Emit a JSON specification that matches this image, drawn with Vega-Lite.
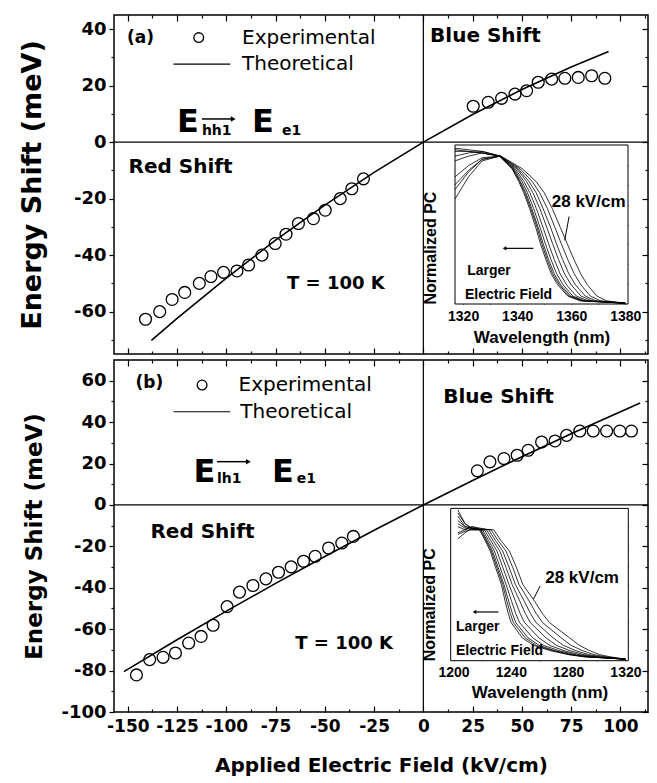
{
"$schema": "https://vega.github.io/schema/vega-lite/v6.json",
"padding": {"left": 17, "top": 13, "right": 5, "bottom": 5},
"spacing": 2,
"config": {
  "font": "DejaVu Sans",
  "view": {"stroke": "black", "strokeWidth": 1.5},
  "axis": {"domain": false, "grid": false, "tickColor": "black", "labelColor": "black", "titleColor": "black", "labelFont": "DejaVu Sans", "titleFont": "DejaVu Sans", "labelFontWeight": "bold", "titleFontWeight": "bold", "tickWidth": 1.2, "labelOverlap": false, "labelFlush": false, "labelExpr": "toString(datum.value)"}
},
"datasets": {
  "expA": [{"efield":-141,"shift":-62.7},{"efield":-133.8,"shift":-60},{"efield":-127.5,"shift":-55.7},{"efield":-121.1,"shift":-53.2},{"efield":-113.7,"shift":-50},{"efield":-107.8,"shift":-47.6},{"efield":-101.4,"shift":-46.1},{"efield":-94.6,"shift":-45.6},{"efield":-88.7,"shift":-43.5},{"efield":-81.9,"shift":-40},{"efield":-75.2,"shift":-35.9},{"efield":-69.7,"shift":-32.6},{"efield":-63.4,"shift":-28.8},{"efield":-55.8,"shift":-27.1},{"efield":-49.8,"shift":-24.1},{"efield":-42.2,"shift":-20},{"efield":-36.3,"shift":-16.5},{"efield":-30.4,"shift":-13},{"efield":25.3,"shift":12.7},{"efield":32.9,"shift":14.1},{"efield":39.7,"shift":15.5},{"efield":46.5,"shift":17},{"efield":52.4,"shift":18.2},{"efield":58.3,"shift":21.2},{"efield":65.1,"shift":22.3},{"efield":71.8,"shift":22.6},{"efield":78.6,"shift":22.9},{"efield":85.4,"shift":23.5},{"efield":92.1,"shift":22.6}],
  "theoA": [{"efield":-138,"shift":-70.2},{"efield":-125,"shift":-62.4},{"efield":-100,"shift":-48.1},{"efield":-75,"shift":-34.7},{"efield":-50,"shift":-22.3},{"efield":-25,"shift":-10.7},{"efield":0,"shift":0},{"efield":25,"shift":9.8},{"efield":50,"shift":18.6},{"efield":75,"shift":26.6},{"efield":94,"shift":32.1}],
  "expB": [{"efield":-145.6,"shift":-82.1},{"efield":-138.9,"shift":-74.7},{"efield":-132.1,"shift":-73.6},{"efield":-125.8,"shift":-71.5},{"efield":-119.1,"shift":-66.7},{"efield":-112.8,"shift":-63.5},{"efield":-106.7,"shift":-58.1},{"efield":-99.6,"shift":-49.1},{"efield":-93.3,"shift":-42.1},{"efield":-86.5,"shift":-38.9},{"efield":-79.9,"shift":-35.7},{"efield":-73.5,"shift":-32.5},{"efield":-67.1,"shift":-29.9},{"efield":-60.8,"shift":-27.2},{"efield":-54.9,"shift":-24.8},{"efield":-48.1,"shift":-20.8},{"efield":-41.4,"shift":-18.4},{"efield":-35.5,"shift":-15.2},{"efield":27.4,"shift":16.5},{"efield":33.8,"shift":20.8},{"efield":40.9,"shift":22.4},{"efield":47.6,"shift":24},{"efield":53.2,"shift":26.4},{"efield":60,"shift":30.4},{"efield":66.8,"shift":30.9},{"efield":72.7,"shift":33.6},{"efield":79.4,"shift":35.7},{"efield":86.2,"shift":35.7},{"efield":93,"shift":35.7},{"efield":99.7,"shift":35.7},{"efield":105.6,"shift":35.7}],
  "theoB": [{"efield":-152,"shift":-80.5},{"efield":-125,"shift":-65.1},{"efield":-100,"shift":-51.3},{"efield":-75,"shift":-37.9},{"efield":-50,"shift":-24.9},{"efield":-25,"shift":-12.2},{"efield":0,"shift":0},{"efield":25,"shift":11.8},{"efield":50,"shift":23.3},{"efield":75,"shift":34.4},{"efield":110,"shift":49.2}],
  "curvesA": [
{"c":1,"wl":1317,"pc":0.66},{"c":1,"wl":1322,"pc":0.80},{"c":1,"wl":1327,"pc":0.90},{"c":1,"wl":1333.5,"pc":0.93},{"c":1,"wl":1338.1,"pc":0.85},{"c":1,"wl":1340.6,"pc":0.77},{"c":1,"wl":1342.4,"pc":0.70},{"c":1,"wl":1344.6,"pc":0.60},{"c":1,"wl":1346.9,"pc":0.48},{"c":1,"wl":1348.6,"pc":0.38},{"c":1,"wl":1350.6,"pc":0.28},{"c":1,"wl":1352.6,"pc":0.19},{"c":1,"wl":1355,"pc":0.12},{"c":1,"wl":1358.7,"pc":0.05},{"c":1,"wl":1363.3,"pc":0.02},{"c":1,"wl":1380,"pc":0.005},
{"c":2,"wl":1317,"pc":0.97},{"c":2,"wl":1322,"pc":0.96},{"c":2,"wl":1327,"pc":0.95},{"c":2,"wl":1333.5,"pc":0.93},{"c":2,"wl":1338.3,"pc":0.85},{"c":2,"wl":1340.9,"pc":0.77},{"c":2,"wl":1342.8,"pc":0.70},{"c":2,"wl":1345,"pc":0.60},{"c":2,"wl":1347.4,"pc":0.48},{"c":2,"wl":1349.1,"pc":0.38},{"c":2,"wl":1351.1,"pc":0.28},{"c":2,"wl":1353.1,"pc":0.19},{"c":2,"wl":1355.6,"pc":0.12},{"c":2,"wl":1359.2,"pc":0.05},{"c":2,"wl":1363.8,"pc":0.02},{"c":2,"wl":1380,"pc":0.005},
{"c":3,"wl":1317,"pc":0.75},{"c":3,"wl":1322,"pc":0.84},{"c":3,"wl":1327,"pc":0.91},{"c":3,"wl":1333.6,"pc":0.93},{"c":3,"wl":1338.5,"pc":0.85},{"c":3,"wl":1341.2,"pc":0.77},{"c":3,"wl":1343.2,"pc":0.70},{"c":3,"wl":1345.4,"pc":0.60},{"c":3,"wl":1347.8,"pc":0.48},{"c":3,"wl":1349.6,"pc":0.38},{"c":3,"wl":1351.6,"pc":0.28},{"c":3,"wl":1353.7,"pc":0.19},{"c":3,"wl":1356.1,"pc":0.12},{"c":3,"wl":1359.8,"pc":0.05},{"c":3,"wl":1364.3,"pc":0.02},{"c":3,"wl":1380,"pc":0.005},
{"c":4,"wl":1317,"pc":0.90},{"c":4,"wl":1322,"pc":0.93},{"c":4,"wl":1327,"pc":0.95},{"c":4,"wl":1333.6,"pc":0.93},{"c":4,"wl":1338.8,"pc":0.85},{"c":4,"wl":1341.8,"pc":0.77},{"c":4,"wl":1343.8,"pc":0.70},{"c":4,"wl":1346.1,"pc":0.60},{"c":4,"wl":1348.5,"pc":0.48},{"c":4,"wl":1350.4,"pc":0.38},{"c":4,"wl":1352.5,"pc":0.28},{"c":4,"wl":1354.6,"pc":0.19},{"c":4,"wl":1357,"pc":0.12},{"c":4,"wl":1360.6,"pc":0.05},{"c":4,"wl":1365,"pc":0.02},{"c":4,"wl":1380,"pc":0.005},
{"c":5,"wl":1317,"pc":0.80},{"c":5,"wl":1322,"pc":0.87},{"c":5,"wl":1327,"pc":0.92},{"c":5,"wl":1333.7,"pc":0.93},{"c":5,"wl":1339.3,"pc":0.85},{"c":5,"wl":1342.5,"pc":0.77},{"c":5,"wl":1344.7,"pc":0.70},{"c":5,"wl":1347.1,"pc":0.60},{"c":5,"wl":1349.6,"pc":0.48},{"c":5,"wl":1351.6,"pc":0.38},{"c":5,"wl":1353.7,"pc":0.28},{"c":5,"wl":1355.9,"pc":0.19},{"c":5,"wl":1358.3,"pc":0.12},{"c":5,"wl":1361.9,"pc":0.05},{"c":5,"wl":1366.2,"pc":0.02},{"c":5,"wl":1380,"pc":0.005},
{"c":6,"wl":1317,"pc":0.98},{"c":6,"wl":1322,"pc":0.97},{"c":6,"wl":1327,"pc":0.96},{"c":6,"wl":1333.7,"pc":0.93},{"c":6,"wl":1339.9,"pc":0.85},{"c":6,"wl":1343.5,"pc":0.77},{"c":6,"wl":1345.8,"pc":0.70},{"c":6,"wl":1348.4,"pc":0.60},{"c":6,"wl":1351,"pc":0.48},{"c":6,"wl":1353.1,"pc":0.38},{"c":6,"wl":1355.3,"pc":0.28},{"c":6,"wl":1357.5,"pc":0.19},{"c":6,"wl":1360,"pc":0.12},{"c":6,"wl":1363.6,"pc":0.05},{"c":6,"wl":1367.7,"pc":0.02},{"c":6,"wl":1380,"pc":0.005},
{"c":7,"wl":1317,"pc":0.72},{"c":7,"wl":1322,"pc":0.83},{"c":7,"wl":1327,"pc":0.91},{"c":7,"wl":1333.8,"pc":0.93},{"c":7,"wl":1340.4,"pc":0.85},{"c":7,"wl":1344.4,"pc":0.77},{"c":7,"wl":1347,"pc":0.70},{"c":7,"wl":1349.6,"pc":0.60},{"c":7,"wl":1352.4,"pc":0.48},{"c":7,"wl":1354.5,"pc":0.38},{"c":7,"wl":1356.8,"pc":0.28},{"c":7,"wl":1359.1,"pc":0.19},{"c":7,"wl":1361.6,"pc":0.12},{"c":7,"wl":1365.2,"pc":0.05},{"c":7,"wl":1369.1,"pc":0.02},{"c":7,"wl":1380,"pc":0.005},
{"c":8,"wl":1317,"pc":0.93},{"c":8,"wl":1322,"pc":0.95},{"c":8,"wl":1327,"pc":0.96},{"c":8,"wl":1333.9,"pc":0.93},{"c":8,"wl":1341.1,"pc":0.85},{"c":8,"wl":1345.6,"pc":0.77},{"c":8,"wl":1348.3,"pc":0.70},{"c":8,"wl":1351.2,"pc":0.60},{"c":8,"wl":1354,"pc":0.48},{"c":8,"wl":1356.3,"pc":0.38},{"c":8,"wl":1358.7,"pc":0.28},{"c":8,"wl":1361.1,"pc":0.19},{"c":8,"wl":1363.6,"pc":0.12},{"c":8,"wl":1367.1,"pc":0.05},{"c":8,"wl":1370.9,"pc":0.02},{"c":8,"wl":1380,"pc":0.005},
{"c":9,"wl":1317,"pc":0.96},{"c":9,"wl":1322,"pc":0.96},{"c":9,"wl":1327,"pc":0.95},{"c":9,"wl":1334,"pc":0.93},{"c":9,"wl":1342,"pc":0.85},{"c":9,"wl":1347,"pc":0.77},{"c":9,"wl":1350,"pc":0.70},{"c":9,"wl":1353,"pc":0.60},{"c":9,"wl":1356,"pc":0.48},{"c":9,"wl":1358.5,"pc":0.38},{"c":9,"wl":1361,"pc":0.28},{"c":9,"wl":1363.5,"pc":0.19},{"c":9,"wl":1366,"pc":0.12},{"c":9,"wl":1369.5,"pc":0.05},{"c":9,"wl":1373,"pc":0.02},{"c":9,"wl":1380,"pc":0.005}],
  "curvesB": [
{"c":1,"wl":1203,"pc":0.99},{"c":1,"wl":1208,"pc":0.90},{"c":1,"wl":1213,"pc":0.87},{"c":1,"wl":1218,"pc":0.86},{"c":1,"wl":1222,"pc":0.79},{"c":1,"wl":1225.6,"pc":0.72},{"c":1,"wl":1229.4,"pc":0.61},{"c":1,"wl":1233.4,"pc":0.50},{"c":1,"wl":1236,"pc":0.39},{"c":1,"wl":1238.2,"pc":0.31},{"c":1,"wl":1240.2,"pc":0.25},{"c":1,"wl":1248,"pc":0.15},{"c":1,"wl":1256,"pc":0.10},{"c":1,"wl":1267.5,"pc":0.066},{"c":1,"wl":1280,"pc":0.04},{"c":1,"wl":1290.6,"pc":0.026},{"c":1,"wl":1320,"pc":0.01},
{"c":2,"wl":1203,"pc":0.95},{"c":2,"wl":1208,"pc":0.88},{"c":2,"wl":1213,"pc":0.87},{"c":2,"wl":1218.6,"pc":0.86},{"c":2,"wl":1222.7,"pc":0.79},{"c":2,"wl":1226.4,"pc":0.72},{"c":2,"wl":1230.3,"pc":0.61},{"c":2,"wl":1234.3,"pc":0.50},{"c":2,"wl":1237.2,"pc":0.39},{"c":2,"wl":1239.6,"pc":0.31},{"c":2,"wl":1241.8,"pc":0.25},{"c":2,"wl":1250,"pc":0.15},{"c":2,"wl":1257.9,"pc":0.10},{"c":2,"wl":1269.2,"pc":0.066},{"c":2,"wl":1281.3,"pc":0.04},{"c":2,"wl":1291.7,"pc":0.026},{"c":2,"wl":1320,"pc":0.01},
{"c":3,"wl":1203,"pc":0.84},{"c":3,"wl":1208,"pc":0.86},{"c":3,"wl":1213,"pc":0.88},{"c":3,"wl":1219.2,"pc":0.86},{"c":3,"wl":1223.3,"pc":0.79},{"c":3,"wl":1227.2,"pc":0.72},{"c":3,"wl":1231.2,"pc":0.61},{"c":3,"wl":1235.2,"pc":0.50},{"c":3,"wl":1238.5,"pc":0.39},{"c":3,"wl":1241.1,"pc":0.31},{"c":3,"wl":1243.4,"pc":0.25},{"c":3,"wl":1252,"pc":0.15},{"c":3,"wl":1259.8,"pc":0.10},{"c":3,"wl":1270.8,"pc":0.066},{"c":3,"wl":1282.6,"pc":0.04},{"c":3,"wl":1292.8,"pc":0.026},{"c":3,"wl":1320,"pc":0.01},
{"c":4,"wl":1203,"pc":0.90},{"c":4,"wl":1208,"pc":0.87},{"c":4,"wl":1213,"pc":0.86},{"c":4,"wl":1220.2,"pc":0.86},{"c":4,"wl":1224.4,"pc":0.79},{"c":4,"wl":1228.5,"pc":0.72},{"c":4,"wl":1232.6,"pc":0.61},{"c":4,"wl":1236.7,"pc":0.50},{"c":4,"wl":1240.5,"pc":0.39},{"c":4,"wl":1243.4,"pc":0.31},{"c":4,"wl":1246.1,"pc":0.25},{"c":4,"wl":1255.3,"pc":0.15},{"c":4,"wl":1263,"pc":0.10},{"c":4,"wl":1273.6,"pc":0.066},{"c":4,"wl":1284.8,"pc":0.04},{"c":4,"wl":1294.6,"pc":0.026},{"c":4,"wl":1320,"pc":0.01},
{"c":5,"wl":1203,"pc":0.80},{"c":5,"wl":1208,"pc":0.84},{"c":5,"wl":1213,"pc":0.87},{"c":5,"wl":1221.5,"pc":0.86},{"c":5,"wl":1225.9,"pc":0.79},{"c":5,"wl":1230.3,"pc":0.72},{"c":5,"wl":1234.5,"pc":0.61},{"c":5,"wl":1238.7,"pc":0.50},{"c":5,"wl":1243.2,"pc":0.39},{"c":5,"wl":1246.5,"pc":0.31},{"c":5,"wl":1249.6,"pc":0.25},{"c":5,"wl":1259.6,"pc":0.15},{"c":5,"wl":1267.2,"pc":0.10},{"c":5,"wl":1277.1,"pc":0.066},{"c":5,"wl":1287.7,"pc":0.04},{"c":5,"wl":1297,"pc":0.026},{"c":5,"wl":1320,"pc":0.01},
{"c":6,"wl":1203,"pc":0.97},{"c":6,"wl":1208,"pc":0.90},{"c":6,"wl":1213,"pc":0.86},{"c":6,"wl":1223,"pc":0.86},{"c":6,"wl":1227.5,"pc":0.79},{"c":6,"wl":1232.3,"pc":0.72},{"c":6,"wl":1236.7,"pc":0.61},{"c":6,"wl":1240.9,"pc":0.50},{"c":6,"wl":1246.3,"pc":0.39},{"c":6,"wl":1250.1,"pc":0.31},{"c":6,"wl":1253.6,"pc":0.25},{"c":6,"wl":1264.5,"pc":0.15},{"c":6,"wl":1272,"pc":0.10},{"c":6,"wl":1281.3,"pc":0.066},{"c":6,"wl":1291,"pc":0.04},{"c":6,"wl":1299.8,"pc":0.026},{"c":6,"wl":1320,"pc":0.01},
{"c":7,"wl":1203,"pc":0.88},{"c":7,"wl":1208,"pc":0.86},{"c":7,"wl":1213,"pc":0.88},{"c":7,"wl":1224.5,"pc":0.86},{"c":7,"wl":1229.2,"pc":0.79},{"c":7,"wl":1234.3,"pc":0.72},{"c":7,"wl":1238.9,"pc":0.61},{"c":7,"wl":1243.2,"pc":0.50},{"c":7,"wl":1249.4,"pc":0.39},{"c":7,"wl":1253.7,"pc":0.31},{"c":7,"wl":1257.6,"pc":0.25},{"c":7,"wl":1269.5,"pc":0.15},{"c":7,"wl":1276.8,"pc":0.10},{"c":7,"wl":1285.4,"pc":0.066},{"c":7,"wl":1294.3,"pc":0.04},{"c":7,"wl":1302.6,"pc":0.026},{"c":7,"wl":1320,"pc":0.01},
{"c":8,"wl":1203,"pc":0.92},{"c":8,"wl":1208,"pc":0.88},{"c":8,"wl":1213,"pc":0.87},{"c":8,"wl":1226.2,"pc":0.86},{"c":8,"wl":1231,"pc":0.79},{"c":8,"wl":1236.6,"pc":0.72},{"c":8,"wl":1241.4,"pc":0.61},{"c":8,"wl":1245.7,"pc":0.50},{"c":8,"wl":1252.9,"pc":0.39},{"c":8,"wl":1257.7,"pc":0.31},{"c":8,"wl":1262.2,"pc":0.25},{"c":8,"wl":1275.1,"pc":0.15},{"c":8,"wl":1282.2,"pc":0.10},{"c":8,"wl":1290.1,"pc":0.066},{"c":8,"wl":1298,"pc":0.04},{"c":8,"wl":1305.7,"pc":0.026},{"c":8,"wl":1320,"pc":0.01},
{"c":9,"wl":1203,"pc":0.83},{"c":9,"wl":1208,"pc":0.85},{"c":9,"wl":1213,"pc":0.86},{"c":9,"wl":1228,"pc":0.86},{"c":9,"wl":1233,"pc":0.79},{"c":9,"wl":1239,"pc":0.72},{"c":9,"wl":1244,"pc":0.61},{"c":9,"wl":1248.4,"pc":0.50},{"c":9,"wl":1256.6,"pc":0.39},{"c":9,"wl":1262,"pc":0.31},{"c":9,"wl":1267,"pc":0.25},{"c":9,"wl":1281,"pc":0.15},{"c":9,"wl":1288,"pc":0.10},{"c":9,"wl":1295,"pc":0.066},{"c":9,"wl":1302,"pc":0.04},{"c":9,"wl":1309,"pc":0.026},{"c":9,"wl":1320,"pc":0.01}]
},
"vconcat": [
{
 "width": 534, "height": 339,
 "resolve": {"scale": {"x": "independent", "y": "independent"}, "axis": {"x": "independent", "y": "independent"}},
 "layer": [
  {
   "resolve": {"axis": {"x": "independent", "y": "independent"}},
   "layer": [
    {"data": {"name": "theoA"}, "mark": {"type": "line", "color": "black", "strokeWidth": 1.6},
     "encoding": {
      "x": {"field": "efield", "type": "quantitative", "scale": {"domain": [-157, 114], "nice": false, "zero": false}, "axis": {"orient": "bottom", "values": [-137.5,-112.5,-87.5,-62.5,-37.5,-12.5,12.5,37.5,62.5,87.5,112.5], "labels": false, "tickSize": -3, "title": null}},
      "y": {"field": "shift", "type": "quantitative", "scale": {"domain": [-75, 45], "nice": false, "zero": false}, "axis": {"orient": "left", "values": [-70,-50,-30,-10,10,30], "labels": false, "tickSize": 3, "title": null}}}},
    {"data": {"name": "expA"}, "mark": {"type": "point", "shape": "circle", "filled": false, "color": "black", "strokeWidth": 1.3, "size": 140, "opacity": 1},
     "encoding": {
      "x": {"field": "efield", "type": "quantitative", "axis": {"orient": "bottom", "values": [-150,-125,-100,-75,-50,-25,0,25,50,75,100], "labels": false, "tickSize": -6, "title": null}},
      "y": {"field": "shift", "type": "quantitative", "axis": {"orient": "left", "values": [-60,-40,-20,0,20,40], "tickSize": 5, "labelPadding": 3, "labelFontSize": 18, "title": "Energy Shift (meV)", "titleFontSize": 27, "titlePadding": 27}}}},
    {"data": {"values": [{}]}, "mark": {"type": "rule", "color": "black", "strokeWidth": 1.2},
     "encoding": {"x": {"datum": 0, "type": "quantitative", "axis": {"orient": "top", "values": [-150,-125,-100,-75,-50,-25,0,25,50,75,100], "labels": false, "tickSize": -6, "title": null}}}},
    {"data": {"values": [{}]}, "mark": {"type": "rule", "color": "black", "strokeWidth": 1.2},
     "encoding": {"y": {"datum": 0, "type": "quantitative", "axis": {"orient": "right", "values": [-60,-40,-20,0,20,40], "labels": false, "tickSize": -6, "title": null}}}},
    {"data": {"values": [{"label": "Red Shift", "efield": -149.6, "shift": -8.8}, {"label": "Blue Shift", "efield": 3.4, "shift": 37.4}]},
     "mark": {"type": "text", "align": "left", "baseline": "middle", "fontSize": 20, "fontWeight": "bold", "color": "black"},
     "encoding": {
      "x": {"field": "efield", "type": "quantitative", "axis": {"orient": "top", "values": [-137.5,-112.5,-87.5,-62.5,-37.5,-12.5,12.5,37.5,62.5,87.5,112.5], "labels": false, "tickSize": -3, "title": null}},
      "y": {"field": "shift", "type": "quantitative", "axis": {"orient": "right", "values": [-70,-50,-30,-10,10,30], "labels": false, "tickSize": -3, "title": null}},
      "text": {"field": "label"}}},
    {"data": {"values": [{"label": "T = 100 K", "efield": -69.2, "shift": -50.3}]},
     "mark": {"type": "text", "align": "left", "baseline": "middle", "fontSize": 18, "fontWeight": "bold", "color": "black"},
     "encoding": {"x": {"field": "efield", "type": "quantitative", "axis": null}, "y": {"field": "shift", "type": "quantitative", "axis": null}, "text": {"field": "label"}}},
    {"data": {"values": [{"label": "(a)", "efield": -150.4, "shift": 37}]},
     "mark": {"type": "text", "align": "left", "baseline": "middle", "fontSize": 17, "fontWeight": "bold", "color": "black"},
     "encoding": {"x": {"field": "efield", "type": "quantitative", "axis": null}, "y": {"field": "shift", "type": "quantitative", "axis": null}, "text": {"field": "label"}}},
    {"data": {"values": [{"label": "Experimental", "efield": -92, "shift": 37}, {"label": "Theoretical", "efield": -92, "shift": 27.6}]},
     "mark": {"type": "text", "align": "left", "baseline": "middle", "fontSize": 20, "color": "black"},
     "encoding": {"x": {"field": "efield", "type": "quantitative", "axis": null}, "y": {"field": "shift", "type": "quantitative", "axis": null}, "text": {"field": "label"}}},
    {"data": {"values": [{}]}, "mark": {"type": "point", "shape": "circle", "filled": false, "color": "black", "strokeWidth": 1.3, "size": 95, "opacity": 1},
     "encoding": {"x": {"datum": -114, "type": "quantitative", "axis": null}, "y": {"datum": 37, "type": "quantitative", "axis": null}}},
    {"data": {"values": [{}]}, "mark": {"type": "rule", "color": "black", "strokeWidth": 1.2},
     "encoding": {"x": {"datum": -126.8, "type": "quantitative", "axis": null}, "x2": {"datum": -98}, "y": {"datum": 27.6, "type": "quantitative", "axis": null}}},
    {"data": {"values": [{"label": "E", "efield": -125, "shift": 3.5}, {"label": "E", "efield": -87, "shift": 3.5}]},
     "mark": {"type": "text", "align": "left", "baseline": "alphabetic", "fontSize": 32, "fontWeight": "bold", "color": "black"},
     "encoding": {"x": {"field": "efield", "type": "quantitative", "axis": null}, "y": {"field": "shift", "type": "quantitative", "axis": null}, "text": {"field": "label"}}},
    {"data": {"values": [{"label": "hh1", "efield": -112.4, "shift": 2.5}, {"label": "e1", "efield": -71.8, "shift": 2.5}]},
     "mark": {"type": "text", "align": "left", "baseline": "alphabetic", "fontSize": 14, "fontWeight": "bold", "color": "black"},
     "encoding": {"x": {"field": "efield", "type": "quantitative", "axis": null}, "y": {"field": "shift", "type": "quantitative", "axis": null}, "text": {"field": "label"}}},
    {"data": {"values": [{}]}, "mark": {"type": "rule", "color": "black", "strokeWidth": 1.5},
     "encoding": {"x": {"datum": -112.4, "type": "quantitative", "axis": null}, "x2": {"datum": -97}, "y": {"datum": 8.2, "type": "quantitative", "axis": null}}},
    {"data": {"values": [{}]}, "mark": {"type": "point", "shape": "triangle-right", "filled": true, "color": "black", "size": 30, "opacity": 1},
     "encoding": {"x": {"datum": -96.5, "type": "quantitative", "axis": null}, "y": {"datum": 8.2, "type": "quantitative", "axis": null}}}
   ]
  },
  {
   "resolve": {"axis": {"x": "independent", "y": "independent"}},
   "layer": [
    {"data": {"values": [{}]}, "mark": {"type": "rect", "fill": "white", "stroke": "black", "strokeWidth": 1},
     "encoding": {
      "x": {"datum": 1317, "type": "quantitative", "scale": {"domain": [1317, 1381], "range": [341, 514], "nice": false, "zero": false},
            "axis": {"orient": "bottom", "offset": -50, "values": [1320,1340,1360,1380], "ticks": false, "labelPadding": 5, "labelFont": "Liberation Sans", "labelFontSize": 14, "title": "Wavelength (nm)", "titleFont": "Liberation Sans", "titleFontSize": 17, "titlePadding": 6}},
      "x2": {"datum": 1381},
      "y": {"datum": 0, "type": "quantitative", "scale": {"domain": [0, 1], "range": [289, 130], "nice": false, "zero": false},
            "axis": {"orient": "left", "offset": -341, "labels": false, "ticks": false, "title": "Normalized PC", "titleFont": "Liberation Sans", "titleFontSize": 16, "titleX": -17, "titleY": 289, "titleAlign": "left", "titleAngle": -90, "titleBaseline": "bottom"}},
      "y2": {"datum": 1}}},
    {"data": {"name": "curvesA"}, "mark": {"type": "line", "color": "black", "strokeWidth": 0.8},
     "encoding": {
      "x": {"field": "wl", "type": "quantitative", "axis": {"orient": "bottom", "offset": -50, "values": [1320,1330,1340,1350,1360,1370,1380], "labels": false, "tickSize": -4, "title": null}},
      "y": {"field": "pc", "type": "quantitative", "axis": {"orient": "right", "offset": -20, "values": [0.125,0.25,0.375,0.5,0.625,0.75,0.875], "labels": false, "tickSize": -4, "title": null}},
      "detail": {"field": "c", "type": "nominal"}}},
    {"data": {"values": [{"label": "28 kV/cm", "wl": 1352.8, "pc": 0.64}]},
     "mark": {"type": "text", "align": "left", "baseline": "middle", "font": "Liberation Sans", "fontSize": 17, "fontWeight": "bold", "color": "black"},
     "encoding": {
      "x": {"field": "wl", "type": "quantitative", "axis": {"orient": "top", "offset": -130, "values": [1320,1330,1340,1350,1360,1370,1380], "labels": false, "tickSize": -4, "title": null}},
      "y": {"field": "pc", "type": "quantitative", "axis": {"orient": "left", "offset": -341, "values": [0.125,0.25,0.375,0.5,0.625,0.75,0.875], "labels": false, "tickSize": -4, "title": null}},
      "text": {"field": "label"}}},
    {"data": {"values": [{"label": "Larger", "wl": 1321.5, "pc": 0.21}, {"label": "Electric Field", "wl": 1320.7, "pc": 0.058}]},
     "mark": {"type": "text", "align": "left", "baseline": "middle", "font": "Liberation Sans", "fontSize": 14, "fontWeight": "bold", "color": "black"},
     "encoding": {"x": {"field": "wl", "type": "quantitative", "axis": null}, "y": {"field": "pc", "type": "quantitative", "axis": null}, "text": {"field": "label"}}},
    {"data": {"values": [{}]}, "mark": {"type": "rule", "color": "black", "strokeWidth": 1},
     "encoding": {"x": {"datum": 1359.2, "type": "quantitative", "axis": null}, "x2": {"datum": 1357.6}, "y": {"datum": 0.55, "type": "quantitative", "axis": null}, "y2": {"datum": 0.40}}},
    {"data": {"values": [{}]}, "mark": {"type": "rule", "color": "black", "strokeWidth": 1.2},
     "encoding": {"x": {"datum": 1335.5, "type": "quantitative", "axis": null}, "x2": {"datum": 1346}, "y": {"datum": 0.35, "type": "quantitative", "axis": null}}},
    {"data": {"values": [{}]}, "mark": {"type": "point", "shape": "triangle-left", "filled": true, "color": "black", "size": 18, "opacity": 1},
     "encoding": {"x": {"datum": 1335.3, "type": "quantitative", "axis": null}, "y": {"datum": 0.35, "type": "quantitative", "axis": null}}}
   ]
  }
 ]
},
{
 "width": 534, "height": 352,
 "resolve": {"scale": {"x": "independent", "y": "independent"}, "axis": {"x": "independent", "y": "independent"}},
 "layer": [
  {
   "resolve": {"axis": {"x": "independent", "y": "independent"}},
   "layer": [
    {"data": {"name": "theoB"}, "mark": {"type": "line", "color": "black", "strokeWidth": 1.6},
     "encoding": {
      "x": {"field": "efield", "type": "quantitative", "scale": {"domain": [-157, 114], "nice": false, "zero": false}, "axis": {"orient": "bottom", "values": [-137.5,-112.5,-87.5,-62.5,-37.5,-12.5,12.5,37.5,62.5,87.5,112.5], "labels": false, "tickSize": -3, "title": null}},
      "y": {"field": "shift", "type": "quantitative", "scale": {"domain": [-100, 70], "nice": false, "zero": false}, "axis": {"orient": "left", "values": [-90,-70,-50,-30,-10,10,30,50], "labels": false, "tickSize": 3, "title": null}}}},
    {"data": {"name": "expB"}, "mark": {"type": "point", "shape": "circle", "filled": false, "color": "black", "strokeWidth": 1.3, "size": 140, "opacity": 1},
     "encoding": {
      "x": {"field": "efield", "type": "quantitative", "axis": {"orient": "bottom", "values": [-150,-125,-100,-75,-50,-25,0,25,50,75,100], "labels": false, "tickSize": -6, "title": null}},
      "y": {"field": "shift", "type": "quantitative", "axis": {"orient": "left", "values": [-100,-80,-60,-40,-20,0,20,40,60], "tickSize": 5, "labelPadding": 3, "labelFontSize": 18, "title": "Energy Shift (meV)", "titleFontSize": 23, "titlePadding": 14}}}},
    {"data": {"values": [{}]}, "mark": {"type": "rule", "color": "black", "strokeWidth": 1.2},
     "encoding": {"x": {"datum": 0, "type": "quantitative", "axis": {"orient": "bottom", "values": [-150,-125,-100,-75,-50,-25,0,25,50,75,100], "ticks": false, "labelPadding": 6, "labelFontSize": 17, "title": "Applied Electric Field (kV/cm)", "titleFontSize": 20, "titlePadding": 21}}}},
    {"data": {"values": [{}]}, "mark": {"type": "rule", "color": "black", "strokeWidth": 1.2},
     "encoding": {"y": {"datum": 0, "type": "quantitative", "axis": {"orient": "right", "values": [-100,-80,-60,-40,-20,0,20,40,60], "labels": false, "tickSize": -6, "title": null}}}},
    {"data": {"values": [{"label": "Red Shift", "efield": -138.5, "shift": -13.3}, {"label": "Blue Shift", "efield": 10.1, "shift": 51.9}]},
     "mark": {"type": "text", "align": "left", "baseline": "middle", "fontSize": 20, "fontWeight": "bold", "color": "black"},
     "encoding": {
      "x": {"field": "efield", "type": "quantitative", "axis": {"orient": "top", "values": [-150,-125,-100,-75,-50,-25,0,25,50,75,100], "labels": false, "tickSize": -6, "title": null}},
      "y": {"field": "shift", "type": "quantitative", "axis": {"orient": "right", "values": [-90,-70,-50,-30,-10,10,30,50], "labels": false, "tickSize": -3, "title": null}},
      "text": {"field": "label"}}},
    {"data": {"values": [{"label": "T = 100 K", "efield": -65, "shift": -67}]},
     "mark": {"type": "text", "align": "left", "baseline": "middle", "fontSize": 18, "fontWeight": "bold", "color": "black"},
     "encoding": {
      "x": {"field": "efield", "type": "quantitative", "axis": {"orient": "top", "values": [-137.5,-112.5,-87.5,-62.5,-37.5,-12.5,12.5,37.5,62.5,87.5,112.5], "labels": false, "tickSize": -3, "title": null}},
      "y": {"field": "shift", "type": "quantitative", "axis": null}, "text": {"field": "label"}}},
    {"data": {"values": [{"label": "(b)", "efield": -146.1, "shift": 58.9}]},
     "mark": {"type": "text", "align": "left", "baseline": "middle", "fontSize": 17, "fontWeight": "bold", "color": "black"},
     "encoding": {"x": {"field": "efield", "type": "quantitative", "axis": null}, "y": {"field": "shift", "type": "quantitative", "axis": null}, "text": {"field": "label"}}},
    {"data": {"values": [{"label": "Experimental", "efield": -93.8, "shift": 57.9}, {"label": "Theoretical", "efield": -92.9, "shift": 45}]},
     "mark": {"type": "text", "align": "left", "baseline": "middle", "fontSize": 20, "color": "black"},
     "encoding": {"x": {"field": "efield", "type": "quantitative", "axis": null}, "y": {"field": "shift", "type": "quantitative", "axis": null}, "text": {"field": "label"}}},
    {"data": {"values": [{}]}, "mark": {"type": "point", "shape": "circle", "filled": false, "color": "black", "strokeWidth": 1.3, "size": 95, "opacity": 1},
     "encoding": {"x": {"datum": -112.3, "type": "quantitative", "axis": null}, "y": {"datum": 57.9, "type": "quantitative", "axis": null}}},
    {"data": {"values": [{}]}, "mark": {"type": "rule", "color": "black", "strokeWidth": 1.2},
     "encoding": {"x": {"datum": -126.8, "type": "quantitative", "axis": null}, "x2": {"datum": -98}, "y": {"datum": 45, "type": "quantitative", "axis": null}}},
    {"data": {"values": [{"label": "E", "efield": -116.6, "shift": 11.2}, {"label": "E", "efield": -76.8, "shift": 11.2}]},
     "mark": {"type": "text", "align": "left", "baseline": "alphabetic", "fontSize": 32, "fontWeight": "bold", "color": "black"},
     "encoding": {"x": {"field": "efield", "type": "quantitative", "axis": null}, "y": {"field": "shift", "type": "quantitative", "axis": null}, "text": {"field": "label"}}},
    {"data": {"values": [{"label": "lh1", "efield": -104.7, "shift": 10.5}, {"label": "e1", "efield": -64.2, "shift": 10.5}]},
     "mark": {"type": "text", "align": "left", "baseline": "alphabetic", "fontSize": 14, "fontWeight": "bold", "color": "black"},
     "encoding": {"x": {"field": "efield", "type": "quantitative", "axis": null}, "y": {"field": "shift", "type": "quantitative", "axis": null}, "text": {"field": "label"}}},
    {"data": {"values": [{}]}, "mark": {"type": "rule", "color": "black", "strokeWidth": 1.5},
     "encoding": {"x": {"datum": -104.7, "type": "quantitative", "axis": null}, "x2": {"datum": -89.3}, "y": {"datum": 20.9, "type": "quantitative", "axis": null}}},
    {"data": {"values": [{}]}, "mark": {"type": "point", "shape": "triangle-right", "filled": true, "color": "black", "size": 30, "opacity": 1},
     "encoding": {"x": {"datum": -88.8, "type": "quantitative", "axis": null}, "y": {"datum": 20.9, "type": "quantitative", "axis": null}}}
   ]
  },
  {
   "resolve": {"axis": {"x": "independent", "y": "independent"}},
   "layer": [
    {"data": {"values": [{}]}, "mark": {"type": "rect", "fill": "white", "stroke": "black", "strokeWidth": 1},
     "encoding": {
      "x": {"datum": 1198, "type": "quantitative", "scale": {"domain": [1198, 1322], "range": [336.7, 514.3], "nice": false, "zero": false},
            "axis": {"orient": "bottom", "offset": -51.3, "values": [1200,1240,1280,1320], "ticks": false, "labelPadding": 5, "labelFont": "Liberation Sans", "labelFontSize": 14, "title": "Wavelength (nm)", "titleFont": "Liberation Sans", "titleFontSize": 17, "titlePadding": 5}},
      "x2": {"datum": 1322},
      "y": {"datum": 0, "type": "quantitative", "scale": {"domain": [0, 1], "range": [300.7, 148.4], "nice": false, "zero": false},
            "axis": {"orient": "left", "offset": -336.7, "labels": false, "ticks": false, "title": "Normalized PC", "titleFont": "Liberation Sans", "titleFontSize": 16, "titleX": -13, "titleY": 300.7, "titleAlign": "left", "titleAngle": -90, "titleBaseline": "bottom"}},
      "y2": {"datum": 1}}},
    {"data": {"name": "curvesB"}, "mark": {"type": "line", "color": "black", "strokeWidth": 0.8},
     "encoding": {
      "x": {"field": "wl", "type": "quantitative", "axis": {"orient": "bottom", "offset": -51.3, "values": [1200,1220,1240,1260,1280,1300,1320], "labels": false, "tickSize": -4, "title": null}},
      "y": {"field": "pc", "type": "quantitative", "axis": {"orient": "right", "offset": -19.7, "values": [0.125,0.25,0.375,0.5,0.625,0.75,0.875], "labels": false, "tickSize": -4, "title": null}},
      "detail": {"field": "c", "type": "nominal"}}},
    {"data": {"values": [{"label": "28 kV/cm", "wl": 1264, "pc": 0.54}]},
     "mark": {"type": "text", "align": "left", "baseline": "middle", "font": "Liberation Sans", "fontSize": 17, "fontWeight": "bold", "color": "black"},
     "encoding": {
      "x": {"field": "wl", "type": "quantitative", "axis": {"orient": "top", "offset": -148.4, "values": [1200,1220,1240,1260,1280,1300,1320], "labels": false, "tickSize": -4, "title": null}},
      "y": {"field": "pc", "type": "quantitative", "axis": {"orient": "left", "offset": -336.7, "values": [0.125,0.25,0.375,0.5,0.625,0.75,0.875], "labels": false, "tickSize": -4, "title": null}},
      "text": {"field": "label"}}},
    {"data": {"values": [{"label": "Larger", "wl": 1201.7, "pc": 0.22}, {"label": "Electric Field", "wl": 1201.7, "pc": 0.066}]},
     "mark": {"type": "text", "align": "left", "baseline": "middle", "font": "Liberation Sans", "fontSize": 14, "fontWeight": "bold", "color": "black"},
     "encoding": {"x": {"field": "wl", "type": "quantitative", "axis": null}, "y": {"field": "pc", "type": "quantitative", "axis": null}, "text": {"field": "label"}}},
    {"data": {"values": [{}]}, "mark": {"type": "rule", "color": "black", "strokeWidth": 1},
     "encoding": {"x": {"datum": 1260.4, "type": "quantitative", "axis": null}, "x2": {"datum": 1255.8}, "y": {"datum": 0.49, "type": "quantitative", "axis": null}, "y2": {"datum": 0.405}}},
    {"data": {"values": [{}]}, "mark": {"type": "rule", "color": "black", "strokeWidth": 1.2},
     "encoding": {"x": {"datum": 1215, "type": "quantitative", "axis": null}, "x2": {"datum": 1231.3}, "y": {"datum": 0.32, "type": "quantitative", "axis": null}}},
    {"data": {"values": [{}]}, "mark": {"type": "point", "shape": "triangle-left", "filled": true, "color": "black", "size": 18, "opacity": 1},
     "encoding": {"x": {"datum": 1214.6, "type": "quantitative", "axis": null}, "y": {"datum": 0.32, "type": "quantitative", "axis": null}}}
   ]
  }
 ]
}
]
}
